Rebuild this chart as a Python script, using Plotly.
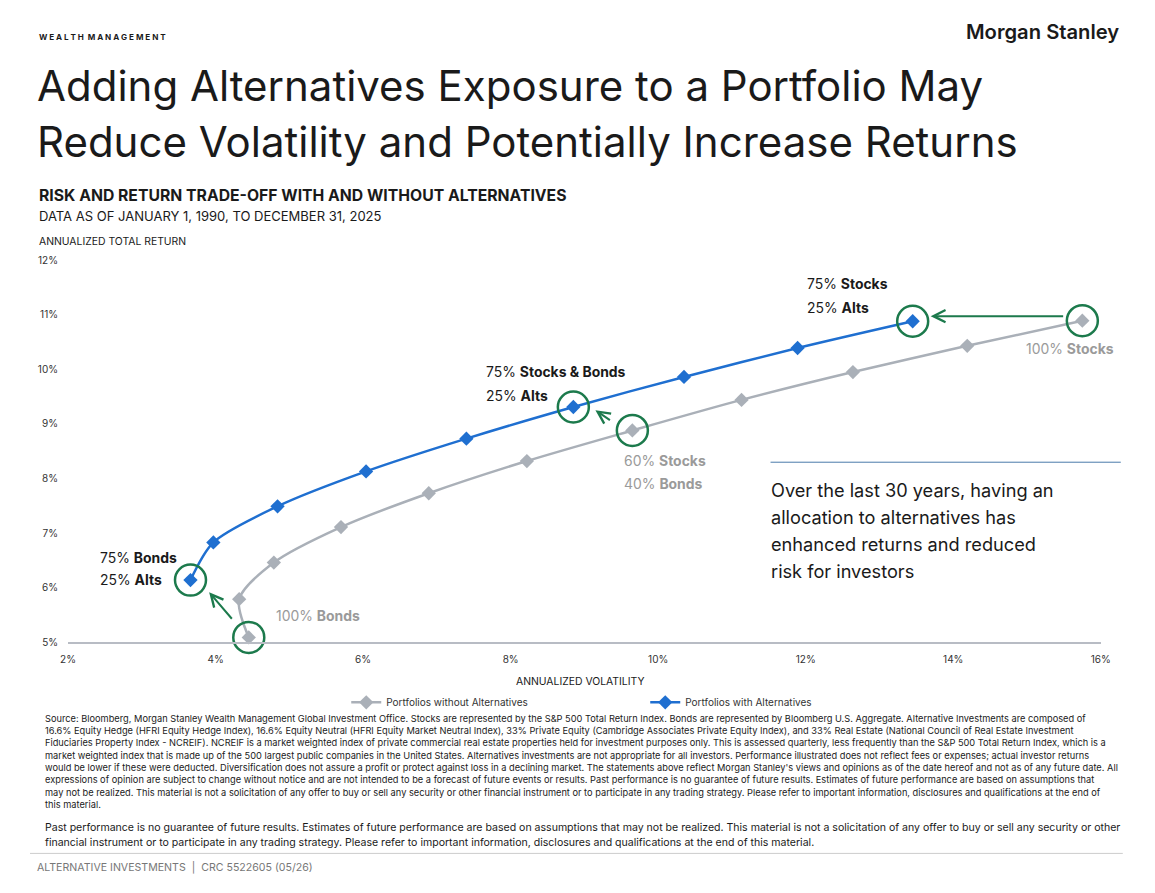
import plotly.graph_objects as go

# ---- data ----
vol_without = [4.45, 4.32, 4.79, 5.70, 6.89, 8.22, 9.65, 11.13, 12.64, 14.19, 15.75]
ret_without = [5.09, 5.79, 6.46, 7.11, 7.73, 8.32, 8.88, 9.44, 9.95, 10.43, 10.89]
vol_with = [3.66, 3.97, 4.84, 6.04, 7.40, 8.85, 10.35, 11.89, 13.45]
ret_with = [6.14, 6.83, 7.49, 8.13, 8.73, 9.31, 9.86, 10.39, 10.88]
x_ticks = [2, 4, 6, 8, 10, 12, 14, 16]
y_ticks = [5, 6, 7, 8, 9, 10, 11, 12]

W, H = 1139, 877
SX, AX = 0.9835, 8.0    # page-to-figure calibration (horizontal)
SY, AY = 0.987, 6.0     # page-to-figure calibration (vertical)
FS = 1.01               # font calibration
FONT = "Inter"
GRAY = "#aab0b8"
BLUE = "#1f6fd0"
GREEN = "#1c7a4c"
TXT = "#1a1a1a"


def px(x):
    return ((x - AX) / SX) / W


def py(y):
    return 1 - ((y - AY) / SY) / H


fig = go.Figure()
fig.add_trace(go.Scatter(
    x=vol_without, y=ret_without, mode="lines+markers",
    name="Portfolios without Alternatives", cliponaxis=False,
    line=dict(color=GRAY, width=2.5, shape="spline", smoothing=0.8),
    marker=dict(symbol="diamond", size=11, color=GRAY)))
fig.add_trace(go.Scatter(
    x=vol_with, y=ret_with, mode="lines+markers",
    name="Portfolios with Alternatives", cliponaxis=False,
    line=dict(color=BLUE, width=2.5, shape="spline", smoothing=0.8),
    marker=dict(symbol="diamond", size=11, color=BLUE)))

# green highlight circles around key portfolios
circ_x = [vol_with[0], vol_without[0], vol_with[5], vol_without[6], vol_with[8], vol_without[10]]
circ_y = [ret_with[0], ret_without[0], ret_with[5], ret_without[6], ret_with[8], ret_without[10]]
fig.add_trace(go.Scatter(
    x=circ_x, y=circ_y, mode="markers", showlegend=False, hoverinfo="skip",
    cliponaxis=False,
    marker=dict(symbol="circle-open", size=31, color=GREEN, line=dict(color=GREEN, width=2.5))))

fig.update_layout(
    width=W, height=H, margin=dict(l=0, r=0, t=0, b=0),
    paper_bgcolor="white", plot_bgcolor="white",
    font=dict(family=FONT, color=TXT),
    xaxis=dict(domain=[px(68), px(1100)], range=[2, 16], tickvals=x_ticks,
               ticktext=[f"{v}%" for v in x_ticks], showgrid=False, zeroline=False,
               showline=True, linecolor="#b8bcc4", linewidth=1.5,
               tickfont=dict(size=10, color="#333"), ticks="", ticklen=0,
               ticklabelstandoff=7),
    yaxis=dict(domain=[py(642), py(260)], range=[5, 12], tickvals=y_ticks,
               ticktext=[f"{v}%" for v in y_ticks], showgrid=False, zeroline=False,
               showline=False, tickfont=dict(size=10, color="#333"), ticks="",
               ticklabelstandoff=9),
    legend=dict(orientation="h", x=px(346), xanchor="left", y=py(702), yanchor="middle",
                font=dict(size=10, color="#333"), entrywidth=254, itemwidth=30),
    showlegend=True,
)

ann = []


def text(x, y, s, size, color=TXT, xanchor="left", yanchor="middle", family=FONT, weight=None):
    f = dict(size=size * FS, color=color, family=family)
    if weight:
        f["weight"] = weight
    ann.append(dict(x=px(x), y=py(y), xref="paper", yref="paper", text=s,
                    showarrow=False, xanchor=xanchor, yanchor=yanchor,
                    font=f, align="left"))


text(37, 37, "<b>W E A L T H  M A N A G E M E N T</b>", 8)
text(1120, 31, "Morgan Stanley", 20, xanchor="right", weight=600)
text(35, 85, "Adding Alternatives Exposure to a Portfolio May", 41.6)
text(35, 141, "Reduce Volatility and Potentially Increase Returns", 41.6)
text(37, 195, "<b>RISK AND RETURN TRADE-OFF WITH AND WITHOUT ALTERNATIVES</b>", 15.6)
text(37, 216, "DATA AS OF JANUARY 1, 1990, TO DECEMBER 31, 2025", 12.9)
text(37, 241, "ANNUALIZED TOTAL RETURN", 10.3)
text(580, 681, "ANNUALIZED VOLATILITY", 10.3, xanchor="center")

# point labels
text(98, 558, "75% <b>Bonds</b>", 13.8)
text(98, 580, "25% <b>Alts</b>", 13.8)
text(274, 616, "100% <b>Bonds</b>", 13.8, color="#9a9a9a")
text(484, 372, "75% <b>Stocks & Bonds</b>", 13.8)
text(484, 396, "25% <b>Alts</b>", 13.8)
text(622, 461, "60% <b>Stocks</b>", 13.8, color="#9a9a9a")
text(622, 484, "40% <b>Bonds</b>", 13.8, color="#9a9a9a")
text(804, 284, "75% <b>Stocks</b>", 13.8)
text(804, 308, "25% <b>Alts</b>", 13.8)
text(1023, 349, "100% <b>Stocks</b>", 13.8, color="#9a9a9a")

# right text box
box_lines = ["Over the last 30 years, having an", "allocation to alternatives has",
             "enhanced returns and reduced", "risk for investors"]
for i, s in enumerate(box_lines):
    text(768, 490 + i * 27, s, 18)

foot = [
    "Source: Bloomberg, Morgan Stanley Wealth Management Global Investment Office. Stocks are represented by the S&P 500 Total Return Index. Bonds are represented by Bloomberg U.S. Aggregate. Alternative Investments are composed of",
    "16.6% Equity Hedge (HFRI Equity Hedge Index), 16.6% Equity Neutral (HFRI Equity Market Neutral Index), 33% Private Equity (Cambridge Associates Private Equity Index), and 33% Real Estate (National Council of Real Estate Investment",
    "Fiduciaries Property Index - NCREIF). NCREIF is a market weighted index of private commercial real estate properties held for investment purposes only. This is assessed quarterly, less frequently than the S&P 500 Total Return Index, which is a",
    "market weighted index that is made up of the 500 largest public companies in the United States. Alternatives investments are not appropriate for all investors. Performance illustrated does not reflect fees or expenses; actual investor returns",
    "would be lower if these were deducted. Diversification does not assure a profit or protect against loss in a declining market. The statements above reflect Morgan Stanley's views and opinions as of the date hereof and not as of any future date. All",
    "expressions of opinion are subject to change without notice and are not intended to be a forecast of future events or results. Past performance is no guarantee of future results. Estimates of future performance are based on assumptions that",
    "may not be realized. This material is not a solicitation of any offer to buy or sell any security or other financial instrument or to participate in any trading strategy. Please refer to important information, disclosures and qualifications at the end of",
    "this material.",
]
for i, s in enumerate(foot):
    text(43, 718 + i * 12.3, s, 9.17)

text(43, 827, "Past performance is no guarantee of future results. Estimates of future performance are based on assumptions that may not be realized. This material is not a solicitation of any offer to buy or sell any security or other", 10.45)
text(43, 842, "financial instrument or to participate in any trading strategy. Please refer to important information, disclosures and qualifications at the end of this material.", 10.45)
text(35, 867, "ALTERNATIVE INVESTMENTS  |  CRC 5522605 (05/26)", 10.5, color="#777")


# arrows
def arrow(x_head, y_head, x_tail, y_tail):
    ann.append(dict(x=px(x_head), y=py(y_head), xref="paper", yref="paper",
                    ax=x_tail - x_head, ay=y_tail - y_head, axref="pixel", ayref="pixel",
                    text="", showarrow=True, arrowhead=5, arrowsize=1.2, arrowwidth=2,
                    arrowcolor=GREEN, standoff=0))


arrow(209, 592, 233, 620)
arrow(595, 410, 611, 421)
arrow(930, 316, 1064, 316)

fig.update_layout(annotations=ann)

shapes = []
# separator lines
shapes.append(dict(type="line", xref="paper", yref="paper", x0=px(770), x1=px(1120),
                   y0=py(462), y1=py(462), line=dict(color="#4a7aab", width=1)))
shapes.append(dict(type="line", xref="paper", yref="paper", x0=px(30), x1=px(1122),
                   y0=py(853), y1=py(853), line=dict(color="#cccccc", width=1)))
fig.update_layout(shapes=shapes)

fig.write_html("out.html")
